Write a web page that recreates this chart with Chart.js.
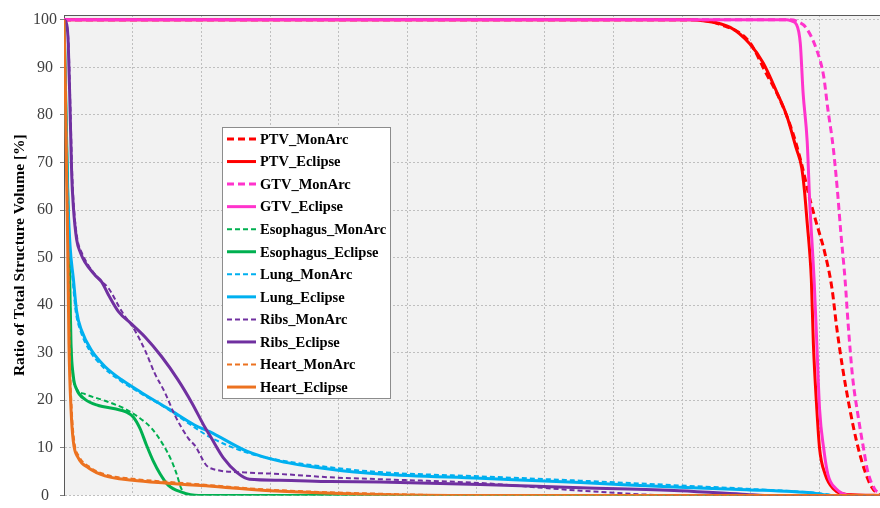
<!DOCTYPE html>
<html>
<head>
<meta charset="utf-8">
<script src="https://cdn.jsdelivr.net/npm/chart.js@4.4.1/dist/chart.umd.min.js"></script>
<style>
    html, body { margin: 0; padding: 0; background: #ffffff; overflow: hidden; }
    #wrap { position: relative; width: 880px; height: 508px; }
</style>
</head>
<body>
<div id="wrap"><canvas id="dvh"></canvas></div>
<script>
// dose (x, grid step 5) vs ratio of total structure volume [%]
const PTV_MONARC = [[0,100],[45.8,100],[47.7,99.1],[49.9,95.3],[51.1,88.8],[52.1,83.3],[53.1,75.8],[53.7,69.6],[54.2,63.4],[54.7,58],[55.4,50.8],[55.9,43.6],[56.25,35.3],[56.7,26.4],[57.2,18.2],[57.7,11.3],[58.3,5.1],[58.8,1.7],[59.3,0.2],[59.4,0]];
const PTV_ECLIPSE = [[0,100],[45.5,100],[46.5,99.8],[48.5,98.4],[49.9,95],[50.9,90.9],[51.9,84.7],[52.6,79.9],[53.3,73],[53.7,68.9],[53.9,64.1],[54.1,57.3],[54.3,50.4],[54.4,45.6],[54.55,31.9],[54.8,18.2],[55.0,9.9],[55.4,4.5],[56.0,1.4],[57.0,0.2],[59.4,0]];
const GTV_MONARC = [[0,100],[52.9,100],[53.5,99.5],[54.0,98.4],[54.8,93.6],[55.3,88.1],[55.6,81.3],[56.0,73],[56.3,64.1],[56.55,55.2],[56.85,45.6],[57.1,35.3],[57.4,25],[57.8,16.8],[58.2,9.9],[58.5,5.1],[59.0,1.4],[59.4,0.4]];
const GTV_ECLIPSE = [[0,100],[52.6,100],[53.0,99.7],[53.3,99.1],[53.6,95],[53.8,84.7],[54.1,74.4],[54.3,60.7],[54.5,50.8],[54.6,45.6],[54.8,31.9],[55.0,18.2],[55.3,9.9],[55.6,4.5],[56.2,1.4],[57.3,0],[59.4,0]];
const ESO_MONARC = [[0,100],[0.15,80],[0.3,60],[0.42,45],[0.51,32],[0.66,25],[0.9,22.5],[1.53,21.3],[2.98,19.9],[4.44,18.2],[5.4,16.5],[6.38,14.1],[7.23,10.6],[7.84,7.2],[8.2,4.5],[8.5,1.7],[8.8,0.4],[9.5,0],[59.4,0]];
const ESO_ECLIPSE = [[0,100],[0.15,80],[0.3,60],[0.42,45],[0.51,32],[0.68,25],[0.92,22.3],[1.53,20.2],[2.5,18.9],[3.7,18.2],[4.56,17.5],[5.04,16.5],[5.53,14.1],[6.0,10.6],[6.5,7.2],[7.0,4.5],[7.6,2.1],[8.56,0.7],[9.8,0],[59.4,0]];
const LUNG_MONARC = [[0,100],[0.1,85],[0.22,65],[0.4,52.5],[0.62,45.6],[0.85,38.7],[1.2,34.6],[1.85,30.5],[2.8,27.1],[4.0,24.3],[5.5,21.6],[7.5,18.2],[9.5,14.3],[10.6,12.3],[13.3,9.0],[15.7,7.4],[19.4,5.9],[23,4.9],[30.3,4.0],[37.6,3.1],[44.8,2.1],[49.7,1.4],[54.5,0.6],[56.5,0],[59.4,0]];
const LUNG_ECLIPSE = [[0,100],[0.1,85],[0.25,65],[0.44,52.5],[0.68,45.6],[0.92,38.7],[1.29,34.6],[2.0,30.5],[2.98,27.1],[4.2,24.3],[5.65,21.6],[7.6,18.2],[9.5,14.8],[10.6,13.4],[13.3,9.3],[15.7,7.2],[19.4,5.5],[23,4.5],[30.3,3.6],[37.6,2.7],[44.8,1.7],[49.7,1.2],[54.5,0.5],[55.9,0],[59.4,0]];
const RIBS_MONARC = [[0,100],[0.2,99],[0.33,95],[0.47,81.3],[0.6,67.5],[0.72,60.7],[0.98,53.8],[1.3,51],[1.77,48.4],[2.5,45.6],[3.23,43.6],[4.2,38.7],[5.17,34.6],[5.9,30.5],[6.6,25.7],[7.35,21.6],[8.08,16.8],[9.05,12],[9.6,10.2],[10.1,7.5],[10.4,6.2],[10.9,5.5],[13.3,4.8],[15.7,4.5],[19.4,3.8],[23,3.4],[30.3,2.6],[37.6,1.0],[44.8,0],[59.4,0]];
const RIBS_ECLIPSE = [[0,100],[0.2,99],[0.31,95],[0.44,81.3],[0.56,67.5],[0.68,60.7],[0.92,53.8],[1.2,51],[1.53,49],[2.26,46.3],[2.74,44.9],[3.23,42.2],[3.95,38.7],[4.93,36],[5.9,33.3],[7.1,29.2],[8.3,24.3],[9.3,19.5],[10.3,14.1],[10.6,12.7],[11.6,7.9],[12.6,4.8],[13.5,3.4],[15.7,3.2],[19.4,2.9],[23,2.8],[30.3,2.3],[37.6,1.6],[44.8,1.0],[49.7,0.2],[51,0],[59.4,0]];
const HEART_MONARC = [[0,100],[0.12,85],[0.23,65],[0.3,52.5],[0.4,31.9],[0.56,18.2],[0.75,11.3],[1.1,8.2],[1.8,6.1],[3.0,4.4],[5.0,3.5],[7.35,2.9],[10,2.3],[15,1.2],[23,0.35],[30,0],[59.4,0]];
const HEART_ECLIPSE = [[0,100],[0.1,85],[0.2,65],[0.27,52.5],[0.36,31.9],[0.51,18.2],[0.68,11.3],[1.04,7.9],[1.77,5.8],[2.98,4.1],[5.0,3.2],[7.35,2.6],[10,2.06],[15,1.0],[23,0.2],[30,0],[59.4,0]];

const SERIES_NAMES = ['PTV_MonArc', 'PTV_Eclipse', 'GTV_MonArc', 'GTV_Eclipse',
    'Esophagus_MonArc', 'Esophagus_Eclipse', 'Lung_MonArc', 'Lung_Eclipse',
    'Ribs_MonArc', 'Ribs_Eclipse', 'Heart_MonArc', 'Heart_Eclipse'];
const SERIES_DATA = [PTV_MONARC, PTV_ECLIPSE, GTV_MONARC, GTV_ECLIPSE,
    ESO_MONARC, ESO_ECLIPSE, LUNG_MONARC, LUNG_ECLIPSE,
    RIBS_MONARC, RIBS_ECLIPSE, HEART_MONARC, HEART_ECLIPSE];
const Y_TICKS = [0, 10, 20, 30, 40, 50, 60, 70, 80, 90, 100];

const COLORS = {
    ptv: '#ff0000',
    gtv: '#ff33cc',
    eso: '#00b050',
    lung: '#00b0f0',
    ribs: '#7030a0',
    heart: '#ec7220'
};
const SERIES_COLORS = [COLORS.ptv, COLORS.ptv, COLORS.gtv, COLORS.gtv, COLORS.eso, COLORS.eso,
    COLORS.lung, COLORS.lung, COLORS.ribs, COLORS.ribs, COLORS.heart, COLORS.heart];

const SERIF = '"Liberation Serif", "Times New Roman", serif';

const datasets = SERIES_NAMES.map((name, i) => {
    const dashed = i % 2 === 0;
    const big = i < 4;
    return {
        label: name,
        data: SERIES_DATA[i].map(p => ({ x: p[0], y: p[1] })),
        borderColor: SERIES_COLORS[i],
        backgroundColor: SERIES_COLORS[i],
        borderWidth: dashed ? (big ? 3 : 2) : 3,
        borderDash: dashed ? (big ? [7, 4] : [5, 3]) : [],
        pointRadius: 0,
        fill: false,
        cubicInterpolationMode: 'monotone',
        order: SERIES_NAMES.length - i
    };
});

const plotFrame = {
    id: 'plotFrame',
    beforeDraw(chart) {
        const { ctx, chartArea: a } = chart;
        ctx.save();
        ctx.fillStyle = '#f2f2f2';
        ctx.fillRect(a.left, a.top, a.right - a.left, a.bottom - a.top);
        ctx.restore();
    },
    afterDraw(chart) {
        const { ctx, chartArea: a } = chart;
        ctx.save();
        ctx.strokeStyle = '#595959';
        ctx.lineWidth = 1;
        ctx.beginPath();
        ctx.moveTo(a.left, a.top + 0.5);
        ctx.lineTo(a.right, a.top + 0.5);
        ctx.stroke();

        // legend box inside the plot
        const bx = 222.5, by = 127.5, bw = 168, bh = 271;
        ctx.fillStyle = '#ffffff';
        ctx.fillRect(bx, by, bw, bh);
        ctx.strokeStyle = '#8c8c8c';
        ctx.strokeRect(bx, by, bw, bh);
        ctx.font = 'bold 14.5px ' + SERIF;
        ctx.textBaseline = 'middle';
        chart.data.datasets.forEach((ds, i) => {
            const y = 139 + i * 22.55;
            ctx.strokeStyle = ds.borderColor;
            ctx.lineWidth = ds.borderWidth;
            ctx.setLineDash(ds.borderDash);
            ctx.beginPath();
            ctx.moveTo(227, y);
            ctx.lineTo(256, y);
            ctx.stroke();
            ctx.setLineDash([]);
            ctx.fillStyle = '#000000';
            ctx.fillText(ds.label, 260, y + 1);
        });
        ctx.restore();
    }
};

new Chart(document.getElementById('dvh'), {
    type: 'line',
    data: { datasets },
    plugins: [plotFrame],
    options: {
        responsive: true,
        maintainAspectRatio: false,
        animation: false,
        layout: { padding: { left: 0, right: 0, top: 15, bottom: 2.5 } },
        plugins: {
            legend: { display: false },
            tooltip: { enabled: false }
        },
        scales: {
            x: {
                type: 'linear',
                min: 0,
                max: 59.4,
                ticks: { display: false, stepSize: 5, includeBounds: false },
                grid: { color: '#bfbfbf', drawTicks: false },
                border: { display: false, dash: [2, 2] },
                afterFit: s => { s.height = 0; }
            },
            y: {
                min: 0,
                max: 101,
                afterBuildTicks: s => { s.ticks = Y_TICKS.map(v => ({ value: v })); },
                ticks: {
                    crossAlign: 'center',
                    padding: 3,
                    color: '#404040',
                    font: { family: SERIF, size: 16 }
                },
                grid: { color: '#bfbfbf', tickLength: 4, tickColor: '#7f7f7f' },
                border: { color: '#595959', width: 1, dash: [2, 2] },
                title: {
                    display: true,
                    text: 'Ratio of Total Structure Volume [%]',
                    color: '#000000',
                    font: { family: SERIF, size: 15.5, weight: 'bold' },
                    padding: { top: 11, bottom: 0 }
                },
                afterFit: s => { s.width = 64; }
            }
        }
    }
});
</script>
</body>
</html>
